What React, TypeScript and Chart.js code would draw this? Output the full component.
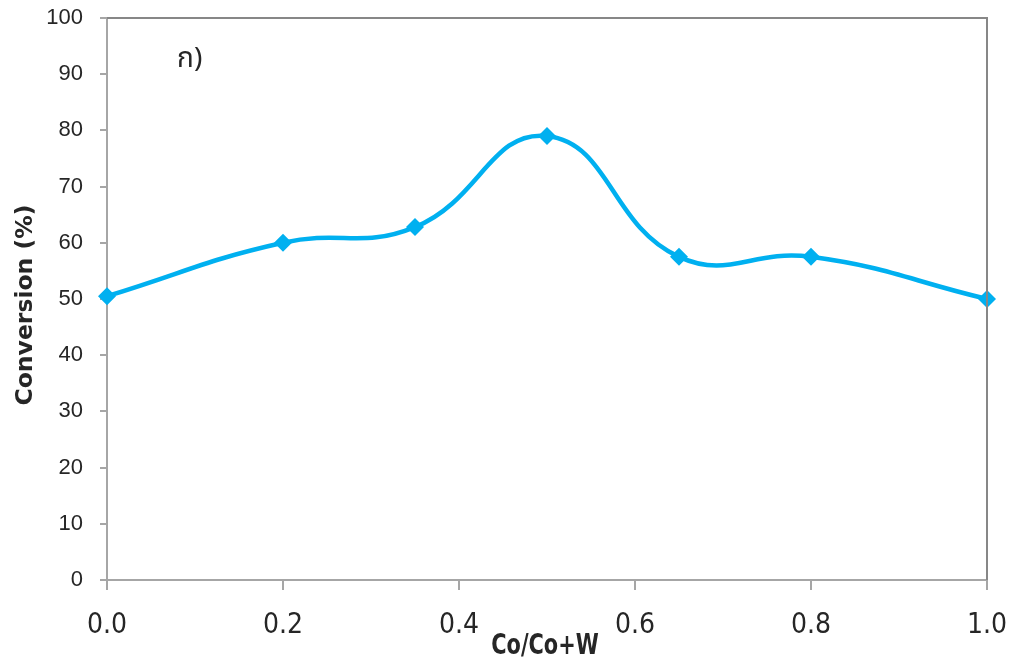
import { useEffect, useRef } from "react";
import { Chart, registerables } from "chart.js";

Chart.register(...registerables);

// ---- data ----
const ratios = [0, 0.2, 0.35, 0.5, 0.65, 0.8, 1.0];
const conversion = [50.5, 60.0, 62.8, 79.0, 57.5, 57.5, 50.0];
const xTickValues = [0, 0.2, 0.4, 0.6, 0.8, 1.0];
const yTickValues = [0, 10, 20, 30, 40, 50, 60, 70, 80, 90, 100];
const xTitle = "Co/Co+W";
const yTitle = "Conversion (%)";
const panelLabel = "ก)";
const panelLabelX = 0.094;
const panelLabelY = 92.3;

const LINE_COLOR = "#00B0F0";
const AXIS_COLOR = "#A6A6A6";
const FRAME_COLOR = "#878787";
const TEXT_COLOR = "#262626";

const framePlugin = {
  id: "frameAndTexts",
  afterDraw(chart: any) {
    const { ctx, chartArea, scales } = chart;
    const { left, right, top, bottom } = chartArea;
    ctx.save();
    // top and right frame
    ctx.strokeStyle = FRAME_COLOR;
    ctx.lineWidth = 2;
    ctx.beginPath();
    ctx.moveTo(left, top);
    ctx.lineTo(right, top);
    ctx.lineTo(right, bottom);
    ctx.stroke();

    // y title
    ctx.fillStyle = TEXT_COLOR;
    ctx.font = 'bold 23.5px "DejaVu Sans", sans-serif';
    ctx.textAlign = "center";
    ctx.textBaseline = "middle";
    ctx.save();
    ctx.translate(26, (top + bottom) / 2 + 6);
    ctx.rotate(-Math.PI / 2);
    ctx.fillText(yTitle, 0, 0);
    ctx.restore();

    // x title (condensed)
    ctx.save();
    ctx.font = 'bold 29px "Liberation Sans Narrow", "DejaVu Sans Condensed", "Liberation Sans", sans-serif';
    ctx.translate((left + right) / 2 - 2, 646);
    ctx.scale(0.8, 1);
    ctx.fillText(xTitle, 0, 0);
    ctx.restore();

    // panel label
    ctx.font = '28px "Noto Sans Thai", "Noto Sans", "DejaVu Sans", sans-serif';
    ctx.fillText(
      panelLabel,
      scales.x.getPixelForValue(panelLabelX),
      scales.y.getPixelForValue(panelLabelY)
    );
    ctx.restore();
  },
};

export default function App() {
  const ref = useRef<HTMLCanvasElement | null>(null);

  useEffect(() => {
    document.body.style.margin = "0";
    const canvas = ref.current;
    if (!canvas) return;
    const chart = new Chart(canvas, {
      type: "line",
      data: {
        datasets: [
          {
            data: ratios.map((x, i) => ({ x, y: conversion[i] })),
            borderColor: LINE_COLOR,
            backgroundColor: LINE_COLOR,
            borderWidth: 4.5,
            tension: 0.45,
            pointStyle: "rectRot",
            pointRadius: 9,
            pointHoverRadius: 9,
            pointBorderWidth: 0,
            clip: false as any,
          },
        ],
      },
      options: {
        responsive: false,
        animation: false,
        events: [],
        layout: { padding: { top: 18, right: 24, left: 0, bottom: 0 } },
        plugins: {
          legend: { display: false },
          tooltip: { enabled: false },
        },
        scales: {
          x: {
            type: "linear",
            min: 0,
            max: 1,
            afterFit(scale: any) {
              scale.height = 84;
              scale.paddingLeft = 0;
              scale.paddingRight = 0;
            },
            afterBuildTicks(scale: any) {
              scale.ticks = xTickValues.map((v) => ({ value: v }));
            },
            ticks: {
              callback: (v: any) => Number(v).toFixed(1),
              font: {
                family: '"Liberation Sans Narrow", "DejaVu Sans Condensed", "Liberation Sans", sans-serif',
                size: 28,
              },
              color: TEXT_COLOR,
              padding: 19,
              maxRotation: 0,
              autoSkip: false,
            },
            grid: {
              drawOnChartArea: false,
              drawTicks: true,
              tickLength: 10,
              color: AXIS_COLOR,
              lineWidth: 2,
            },
            border: { color: AXIS_COLOR, width: 2 },
          },
          y: {
            type: "linear",
            min: 0,
            max: 100,
            afterFit(scale: any) {
              scale.width = 107;
              scale.paddingTop = 0;
              scale.paddingBottom = 0;
            },
            afterBuildTicks(scale: any) {
              scale.ticks = yTickValues.map((v) => ({ value: v }));
            },
            ticks: {
              font: { family: '"Liberation Sans", sans-serif', size: 22 },
              color: TEXT_COLOR,
              padding: 17,
              autoSkip: false,
            },
            grid: {
              drawOnChartArea: false,
              drawTicks: true,
              tickLength: 7,
              color: AXIS_COLOR,
              lineWidth: 2,
            },
            border: { color: AXIS_COLOR, width: 2 },
          },
        },
      },
      plugins: [framePlugin],
    });
    return () => chart.destroy();
  }, []);

  return (
    <div style={{ position: "absolute", left: 0, top: 0, width: 1011, height: 664, background: "#fff" }}>
      <canvas ref={ref} width={1011} height={664} />
    </div>
  );
}
